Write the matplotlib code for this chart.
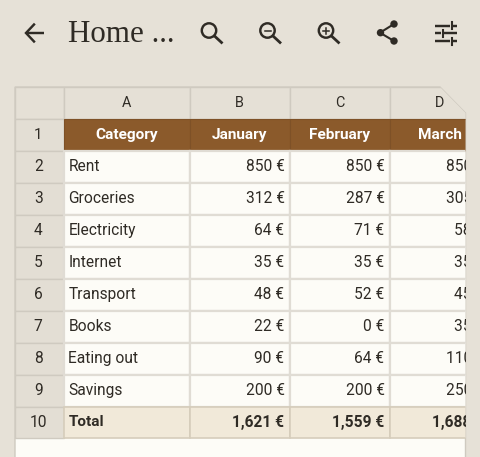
import matplotlib
matplotlib.use("Agg")
import matplotlib.pyplot as plt
from matplotlib.patches import Rectangle, Circle, Polygon

column_letters = ["A", "B", "C", "D"]
months = ["January", "February", "March"]
categories = ["Rent", "Groceries", "Electricity", "Internet", "Transport", "Books", "Eating out", "Savings"]
january = [850, 312, 64, 35, 48, 22, 90, 200]
february = [850, 287, 71, 35, 52, 0, 64, 200]
march = [850, 305, 58, 35, 45, 35, 110, 250]
totals = ["1,621 €", "1,559 €", "1,688 €"]
title = "Home ..."

BG = "#E6E1D7"; PAGE = "#FDFCF7"; BROWN = "#8B5A2B"; BROWN_D = "#7E5127"
HEAD = "#E5E0D6"; RH = "#E3DED4"; TOTAL = "#F1E9D9"; GRID = "#E0DCD4"; GRID_D = "#CFCAC0"
TOTAL_GRID = "#D6CDBB"; INK = "#2F2B25"

W, H = 480, 457
fig = plt.figure(figsize=(W / 100, H / 100), dpi=100, facecolor=BG)
ax = fig.add_axes([0, 0, 1, 1])
ax.set_xlim(0, W); ax.set_ylim(H, 0); ax.axis("off")

col_edges = [15, 63.5, 189.5, 290, 390, 490]
top = 87
head_h = 31.5
row_h = 32
right = 465.5

outline = [(15, top), (440, top), (right, 113), (right, H + 5), (15, H + 5)]
ax.add_patch(Polygon(outline, closed=True, fc=PAGE, ec=GRID_D, lw=1.0, zorder=1))
clip = Polygon(outline, closed=True, transform=ax.transData)
text_clip = Rectangle((15, top), right - 15, H - top, transform=ax.transData)


def cell(x0, x1, y0, y1, fc, ec, lw=1.6, z=2):
    r = Rectangle((x0, y0), x1 - x0, y1 - y0, fc=fc, ec=ec, lw=lw, zorder=z)
    ax.add_patch(r)
    r.set_clip_path(clip)


def label(x, y, s, ha="center", color=INK, weight="normal", size=11.2):
    t = ax.text(x, y, s, ha=ha, va="center", color=color, fontweight=weight,
                fontsize=size, family="Roboto", zorder=5, clip_on=True)
    t.set_clip_path(text_clip)
    return t


# column header row
cell(col_edges[0], col_edges[1], top, top + head_h, HEAD, GRID_D, 1.0)
for i, letter in enumerate(column_letters):
    x0, x1 = col_edges[i + 1], col_edges[i + 2]
    cell(x0, x1, top, top + head_h, HEAD, GRID_D, 1.0)
    label((x0 + x1) / 2, top + head_h / 2 + 0.3, letter, size=10.4)

# row 1
y0 = top + head_h
cell(col_edges[0], col_edges[1], y0, y0 + row_h, RH, GRID_D, 1.0)
label((col_edges[0] + col_edges[1]) / 2 - 1, y0 + row_h / 2 + 0.3, "1", size=10.8)
for i, name in enumerate(["Category"] + months):
    x0, x1 = col_edges[i + 1], col_edges[i + 2]
    cell(x0, x1, y0, y0 + row_h, BROWN, BROWN_D, 0.8)
    label((x0 + x1) / 2, y0 + row_h / 2 + 0.3, name, color="white", weight="bold", size=11.1)

# body
for r, cat in enumerate(categories):
    y = y0 + row_h * (r + 1)
    yc = y + row_h / 2 + 0.3
    cell(col_edges[0], col_edges[1], y, y + row_h, RH, GRID_D, 1.0)
    label((col_edges[0] + col_edges[1]) / 2 - 1, yc, str(r + 2))
    cell(col_edges[1], col_edges[2], y, y + row_h, PAGE, GRID)
    label(col_edges[1] + 5, yc, cat, ha="left")
    for c, series in enumerate([january, february, march]):
        x0, x1 = col_edges[c + 2], col_edges[c + 3]
        cell(x0, x1, y, y + row_h, PAGE, GRID)
        label(x1 - 5.5, yc, f"{series[r]} €", ha="right")

# totals
y = y0 + row_h * 9
yc = y + row_h / 2
cell(col_edges[0], col_edges[1], y, y + row_h - 1, RH, GRID_D, 1.0)
label((col_edges[0] + col_edges[1]) / 2 - 1, yc, "10")
cell(col_edges[1], col_edges[2], y, y + row_h - 1, TOTAL, TOTAL_GRID, 1.2)
label(col_edges[1] + 5, yc, "Total", ha="left", weight="bold", size=11.0)
for c, total in enumerate(totals):
    x0, x1 = col_edges[c + 2], col_edges[c + 3]
    cell(x0, x1, y, y + row_h - 1, TOTAL, TOTAL_GRID, 1.2)
    label(x1 - 5.5, yc, total, ha="right", weight="bold", size=11.2)

# toolbar
ax.text(68.5, 34.5, title, ha="left", va="center", fontsize=22.3, color=INK,
        family="Liberation Serif", zorder=5)
LW = 1.75
line = dict(color=INK, lw=LW, solid_capstyle="butt", zorder=5)
ax.plot([26, 44], [33, 33], **line)
ax.plot([34, 26, 34], [24.5, 33, 41.5], color=INK, lw=LW, zorder=5, solid_joinstyle="miter")


def magnifier(cx, cy, kind=None):
    ax.add_patch(Circle((cx, cy), 7.2, fc="none", ec=INK, lw=LW, zorder=5))
    ax.plot([cx + 5.5, cx + 12.5], [cy + 5.5, cy + 12], color=INK, lw=2.0, zorder=5)
    if kind:
        ax.plot([cx - 3, cx + 3], [cy, cy], color=INK, lw=1.1, zorder=5)
    if kind == "+":
        ax.plot([cx, cx], [cy - 3, cy + 3], color=INK, lw=1.1, zorder=5)


magnifier(209, 30.5)
magnifier(267.5, 30.5, "-")
magnifier(326, 30.5, "+")

ax.plot([394, 380, 394], [24, 32.7, 41], color=INK, lw=1.5, zorder=5)
for cx, cy in [(394, 24), (380.5, 32.7), (394, 41)]:
    ax.add_patch(Circle((cx, cy), 3.7, fc=INK, ec="none", zorder=5))

for yy, a, b, nx in [(25.5, 435, 457, 451), (33, 435, 457, 442), (41, 435, 457, 451)]:
    ax.plot([a, b], [yy, yy], **line)
    ax.add_patch(Rectangle((nx - 1, yy - 3.5), 2, 7, fc=BG, ec="none", zorder=6))
    ax.plot([nx + 1, nx + 1], [yy - 3.5, yy + 3.5], color=INK, lw=1.5, zorder=7)

fig.savefig("out.png", dpi=100, facecolor=BG)
